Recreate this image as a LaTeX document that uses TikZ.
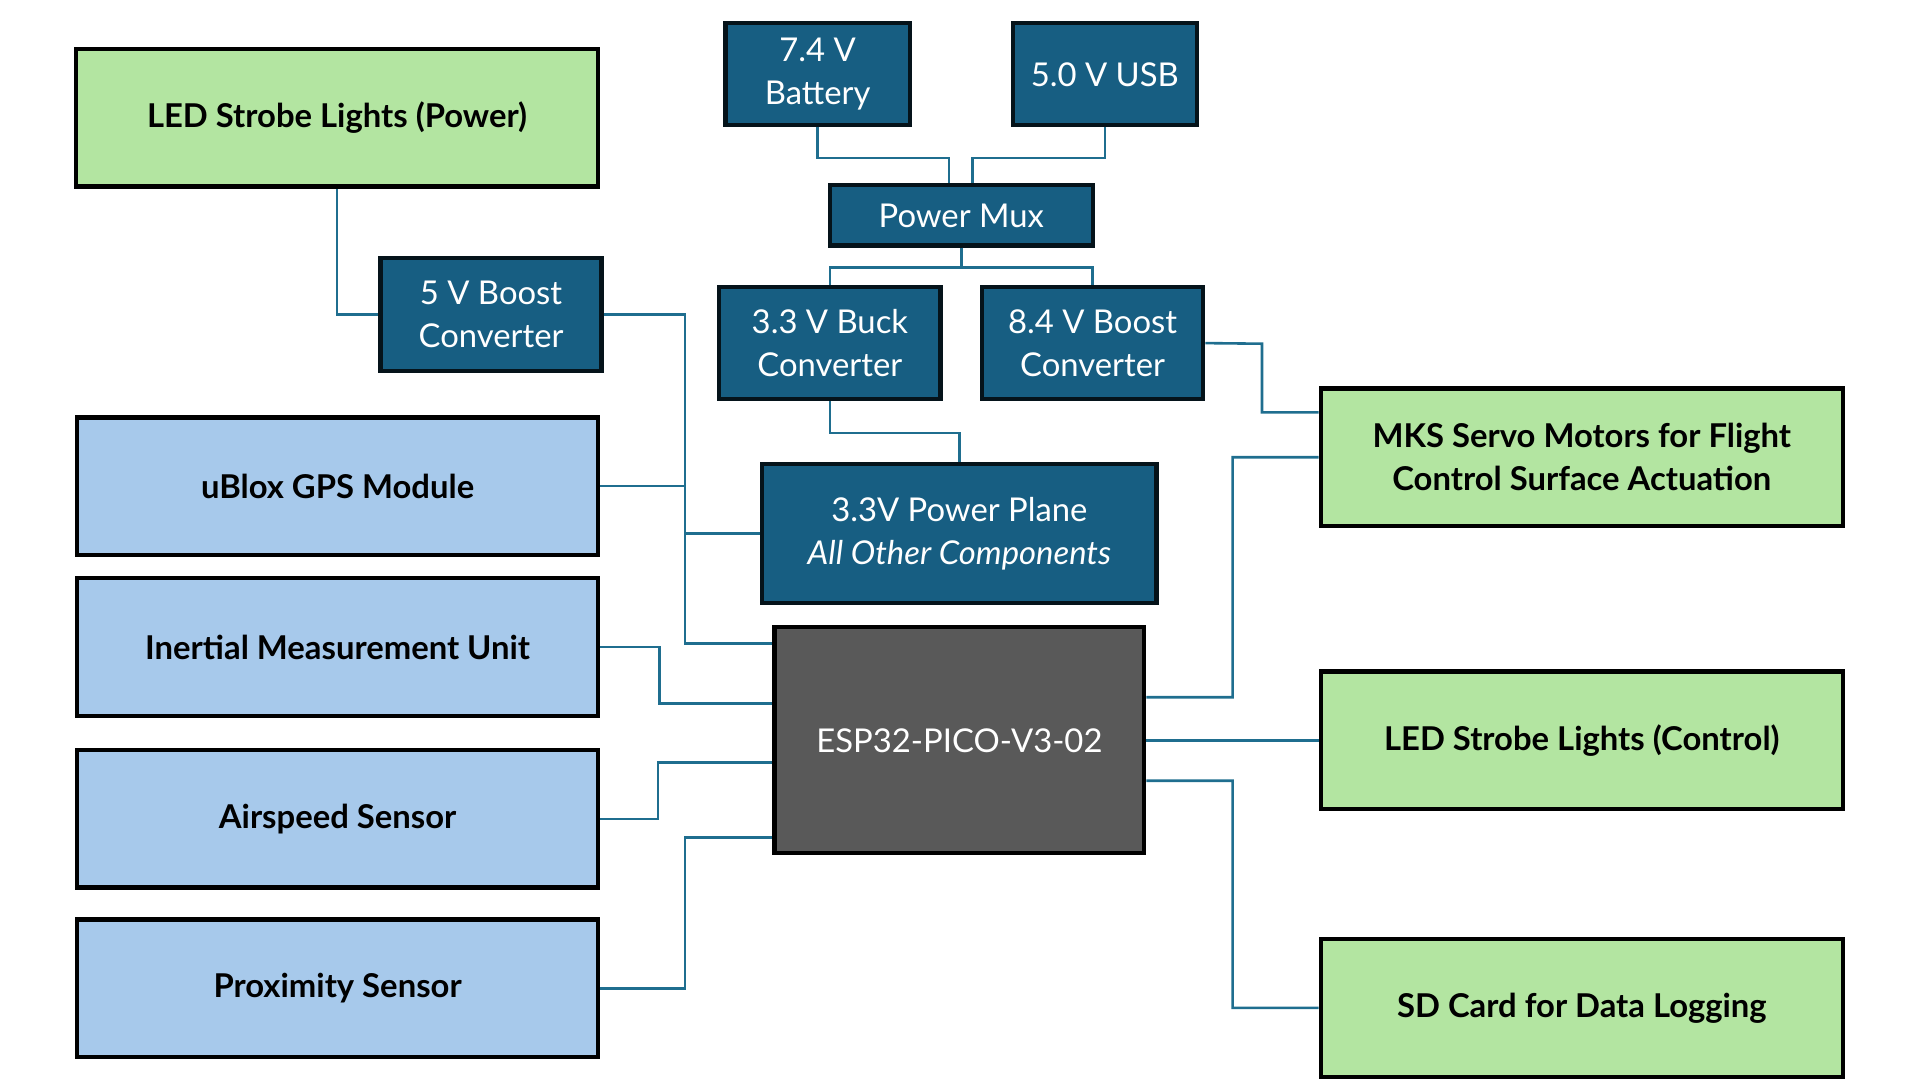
\documentclass[tikz,border=0pt]{standalone}
\usepackage{fontspec}
\setmainfont{Lato}
\usepackage{xcolor}
\usetikzlibrary{positioning}
\definecolor{darkbox}{HTML}{175E82}
\definecolor{wirecol}{HTML}{1F6E8F}
\definecolor{greenbox}{HTML}{B3E5A1}
\definecolor{bluebox}{HTML}{A7C9EB}
\definecolor{chipbox}{HTML}{595959}
\tikzset{
  pwr/.style={draw=black!80!darkbox, line width=1pt, fill=darkbox, text=white, align=center, font=\fontsize{7.6}{10}\selectfont},
  outp/.style={draw=black, line width=1pt, fill=greenbox, align=center, font=\fontsize{7.6}{10}\selectfont\bfseries, minimum width=4.25cm, minimum height=1.12cm},
  inp/.style={draw=black, line width=1pt, fill=bluebox, align=center, font=\fontsize{7.6}{10}\selectfont\bfseries, minimum width=4.24cm, minimum height=1.12cm},
  wire/.style={draw=wirecol, line width=0.6pt}
}
\begin{document}
\begin{tikzpicture}[x=0.01cm, y=-0.01cm]
\useasboundingbox (0,0) rectangle (1564,880);
% power side
\node[outp] (ledpwr) at (274.5,96) {LED Strobe Lights (Power)};
\node[pwr, minimum width=1.5cm, minimum height=0.83cm] (bat) at (666,60.5) {7.4 V\\Battery};
\node[pwr, minimum width=1.5cm, minimum height=0.83cm] (usb) at (900,60.5) {5.0 V USB};
\node[pwr, minimum width=2.14cm, minimum height=0.49cm] (mux) at (783,175.5) {Power Mux};
\node[pwr, minimum width=1.8cm, minimum height=0.92cm] (boost5) at (400,256) {5 V Boost\\Converter};
\node[pwr, minimum width=1.8cm, minimum height=0.91cm] (buck) at (676,279.5) {3.3 V Buck\\Converter};
\node[pwr, minimum width=1.8cm, minimum height=0.91cm] (boost8) at (890,279.5) {8.4 V Boost\\Converter};
\node[pwr, minimum width=3.21cm, minimum height=1.13cm] (plane) at (781.5,434.5) {3.3V Power Plane\\\textit{All Other Components}};
% controller
\node[draw=black, line width=1pt, fill=chipbox, text=white, minimum width=3.01cm, minimum height=1.84cm, font=\fontsize{7.6}{10}\selectfont] (esp) at (781.5,603) {ESP32-PICO-V3-02};
% sensors
\node[inp] (gps) at (275,396) {uBlox GPS Module};
\node[inp] (imu) at (275,527) {Inertial Measurement Unit};
\node[inp] (air) at (275,667) {Airspeed Sensor};
\node[inp] (prox) at (275,805) {Proximity Sensor};
% outputs
\node[outp] (servo) at (1288.5,372.5) {MKS Servo Motors for Flight\\Control Surface Actuation};
\node[outp] (ledctl) at (1288.5,603) {LED Strobe Lights (Control)};
\node[outp] (sd) at (1288.5,821) {SD Card for Data Logging};

\draw[wire] (bat.south) -- ++(0,25) -| ([xshift=-0.1cm]mux.north);
\draw[wire] (usb.south) -- ++(0,25) -| ([xshift=0.09cm]mux.north);
\draw[wire] (mux.south) -- ++(0,16) -| (buck.north);
\draw[wire] (mux.south) -- ++(0,16) -| (boost8.north);
\draw[wire] (ledpwr.south) |- (boost5.west);
\draw[wire] (boost5.east) -- (558,256) |- (plane.west);
\draw[wire] (buck.south) -- ++(0,26) -| (plane.north);
\draw[wire] (boost8.east) -- (1028,280) |- ([yshift=0.365cm]servo.west);
\draw[wire] ([yshift=0.35cm]esp.east) -- (1004,568) |- (servo.west);
\draw[wire] (esp.east) -- (ledctl.west);
\draw[wire] ([yshift=-0.33cm]esp.east) -- (1004,636) |- (sd.west);
\draw[wire] (gps.east) -- (558,396) |- ([yshift=0.79cm]esp.west);
\draw[wire] (imu.east) -- (537,527) |- ([yshift=0.3cm]esp.west);
\draw[wire] (air.east) -- (536,667) |- ([yshift=-0.18cm]esp.west);
\draw[wire] (prox.east) -- (558,805) |- ([yshift=-0.79cm]esp.west);
\end{tikzpicture}
\end{document}
